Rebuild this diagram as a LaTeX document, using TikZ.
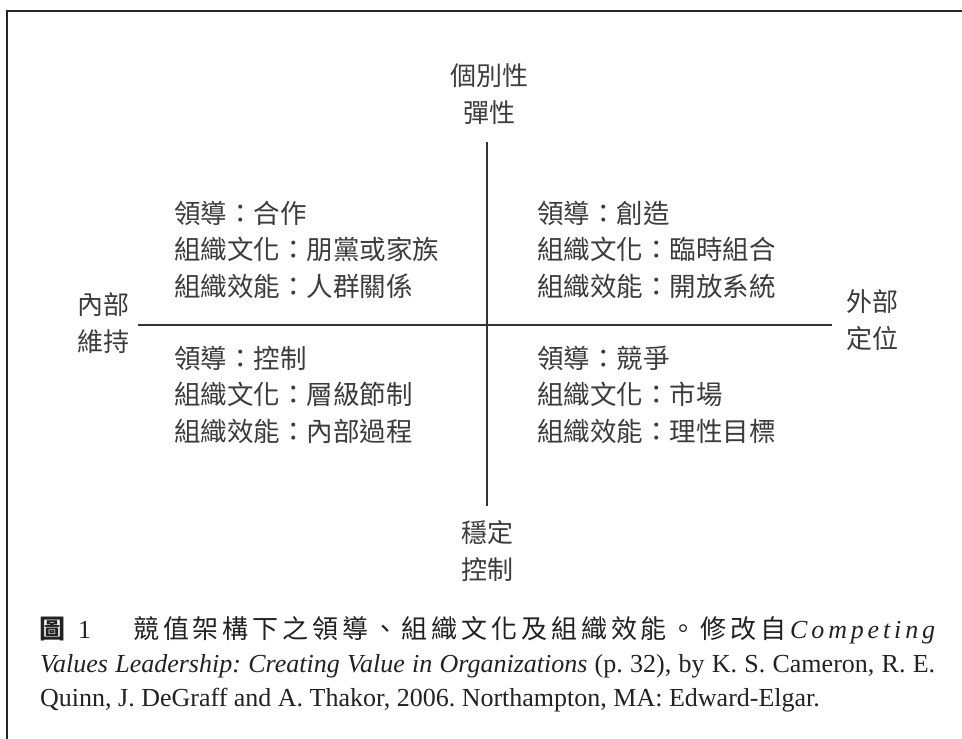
\documentclass[tikz,border=0pt]{standalone}
\usepackage{fontspec}
\setmainfont{Liberation Serif}
\newfontfamily\cjk{Noto Sans CJK TC}
\definecolor{framegray}{HTML}{262626}
\definecolor{axisgray}{HTML}{333333}
\definecolor{labgray}{HTML}{3C3C3C}
\definecolor{capblack}{HTML}{222222}
\begin{document}
\begin{tikzpicture}[x=1pt,y=-1pt,
  lab/.style={font=\cjk\fontsize{26}{30}\selectfont, text=labgray, inner sep=0pt},
  side/.style={lab, anchor=west},
  quad/.style={lab, anchor=west, font=\cjk\fontsize{26.5}{30}\selectfont},
  axisline/.style={draw=axisgray, line width=1.5pt},
  frameline/.style={draw=framegray, line width=2.3pt, line join=miter},
  capline/.style={font=\fontsize{26}{34}\selectfont\frenchspacing, text=capblack, inner sep=0pt, anchor=base west}]
\useasboundingbox (0,0) rectangle (962,739);
\fill[white] (0,0) rectangle (962,739);
% frame
\coordinate (fa) at (7,739);
\coordinate (fb) at (7,11);
\coordinate (fc) at (962,11);
\draw[frameline] (fa) -- (fb) -- (fc);
% axes
\coordinate (vt) at (487,142);
\coordinate (vb) at (487,506);
\coordinate (hl) at (138,325);
\coordinate (hr) at (832,325);
\draw[axisline] (vt) -- (vb);
\draw[axisline] (hl) -- (hr);
% axis labels
\node[lab] (top1) at (489,76) {個別性};
\node[lab] (top2) at (489,113) {彈性};
\node[lab] (bot1) at (487,533) {穩定};
\node[lab] (bot2) at (487,570) {控制};
\node[side] (lft1) at (77,305) {內部};
\node[side] (lft2) at (77,342) {維持};
\node[side] (rgt1) at (846,302) {外部};
\node[side] (rgt2) at (846,339) {定位};
% quadrants
\node[quad] (ul1) at (174,213) {領導：合作};
\node[quad] (ul2) at (174,249.5) {組織文化：朋黨或家族};
\node[quad] (ul3) at (174,286) {組織效能：人群關係};
\node[quad] (ur1) at (537,213) {領導：創造};
\node[quad] (ur2) at (537,249.5) {組織文化：臨時組合};
\node[quad] (ur3) at (537,286) {組織效能：開放系統};
\node[quad] (ll1) at (174,358) {領導：控制};
\node[quad] (ll2) at (174,394.5) {組織文化：層級節制};
\node[quad] (ll3) at (174,431) {組織效能：內部過程};
\node[quad] (lr1) at (537,358) {領導：競爭};
\node[quad] (lr2) at (537,394.5) {組織文化：市場};
\node[quad] (lr3) at (537,431) {組織效能：理性目標};
% caption
\node[capline, font=\cjk\bfseries\fontsize{26}{34}\selectfont] (figno) at (39,638) {圖};
\node[capline] (num) at (78,638) {1};
\node[capline] (cap1) at (133,638) {\makebox[802pt][s]{\cjk 競\hfill 值\hfill 架\hfill 構\hfill 下\hfill 之\hfill 領\hfill 導\hfill 、\hfill 組\hfill 織\hfill 文\hfill 化\hfill 及\hfill 組\hfill 織\hfill 效\hfill 能\hfill 。\hfill 修\hfill 改\hfill 自\hfill\rmfamily\itshape C\hfill o\hfill m\hfill p\hfill e\hfill t\hfill i\hfill n\hfill g}};
\node[capline] (cap2) at (40,672) {\makebox[895pt][s]{\itshape Values Leadership: Creating Value in Organizations\/ \upshape (p. 32), by K. S. Cameron, R. E.}};
\node[capline] (cap3) at (40,706) {Quinn, J. DeGraff and A. Thakor, 2006. Northampton, MA: Edward-Elgar.};
\end{tikzpicture}
\end{document}
